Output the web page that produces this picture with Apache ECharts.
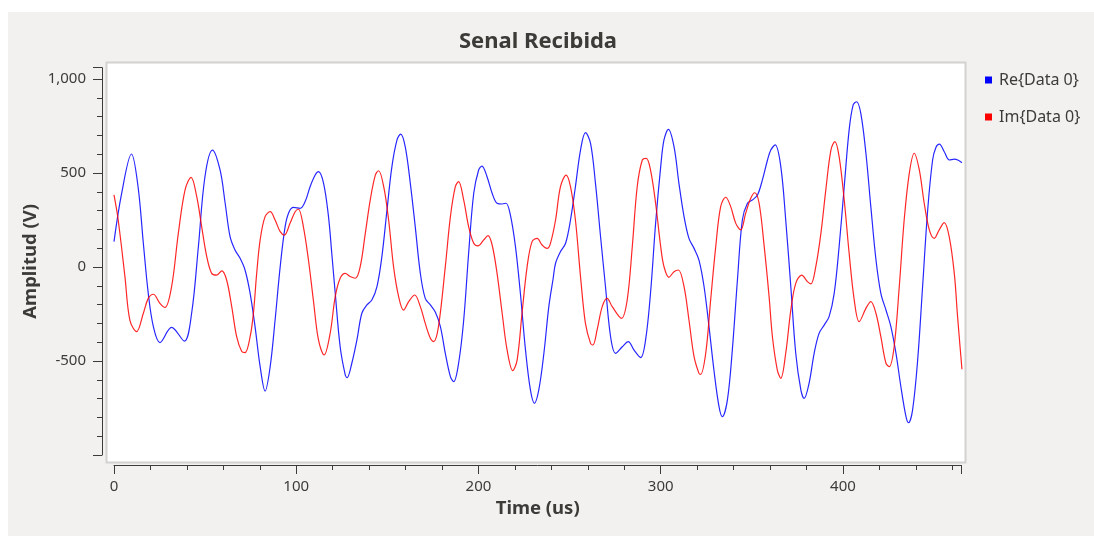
<!DOCTYPE html>
<html>
<head>
<meta charset="utf-8">
<script src="https://cdn.jsdelivr.net/npm/echarts@6/dist/echarts.min.js"></script>
<style>
html,body{margin:0;padding:0;background:#ffffff;}
#chart{width:1094px;height:536px;}
</style>
</head>
<body>
<div id="chart"></div>
<script>
var chartTitle = 'Senal Recibida';
var xName = 'Time (us)';
var yName = 'Amplitud (V)';
var seriesNames = ['Re{Data 0}', 'Im{Data 0}'];

var reTime = [0,4.2,9.6,13.2,16.1,18.8,21.6,25.2,31.6,38.6,42.6,46.3,49.9,54.0,58.2,61.0,63.7,66.4,69.2,71.9,74.7,77.4,80.2,82.9,85.7,88.4,91.2,93.9,96.1,98.5,102.1,104.9,107.6,110.4,112.2,115.0,117.7,119.5,121.4,124.1,126.9,127.9,130.5,133.3,136.0,138.8,141.5,144.3,147.0,149.8,152.5,155.3,157.3,159.8,162.6,165.3,168.1,170.8,173.6,176.3,179.1,181.8,184.6,186.4,189.1,191.9,194.6,197.4,200.1,201.9,204.7,207.5,210.2,213.0,215.1,217.5,220.3,223.0,225.8,228.5,230.7,233.1,235.9,238.6,241.0,242.3,245.0,247.8,250.5,253.2,256.0,258.7,261.5,264.2,267.0,269.7,272.5,275.2,278.9,282.2,285.3,289.0,291.7,294.4,297.2,300.0,301.8,304.2,307.3,310.0,312.8,315.5,318.3,321.0,323.8,326.5,329.2,332.0,333.8,336.6,339.3,342.1,344.8,347.6,350.3,353.1,355.8,358.6,360.4,362.8,365.9,368.6,371.4,374.1,376.9,378.7,381.4,384.2,386.9,389.7,392.4,395.2,397.9,400.7,403.4,405.6,407.5,409.8,412.6,415.3,418.1,420.8,423.6,426.3,429.1,431.8,434.6,436.0,438.2,441.0,443.7,446.5,449.2,451.0,452.9,455.6,458.4,461.1,463.0,465.3];
var reVal = [135,392,601,427,126,-140,-317,-402,-321,-394,-246,108,480,622,516,339,161,90,46,-16,-140,-317,-530,-660,-530,-282,2,215,294,317,312,348,427,489,507,445,268,73,-140,-424,-574,-589,-512,-388,-246,-202,-176,-105,55,303,534,676,707,640,445,215,-34,-167,-202,-240,-317,-459,-583,-610,-512,-282,73,392,516,537,480,392,339,335,339,277,108,-140,-441,-654,-725,-654,-459,-211,-60,20,82,126,250,427,622,715,658,445,161,-105,-371,-459,-424,-397,-441,-482,-388,-140,232,534,676,732,640,445,268,152,99,37,-105,-317,-548,-743,-796,-707,-441,-69,250,339,356,383,463,569,622,649,534,250,-105,-459,-654,-699,-619,-459,-353,-309,-264,-140,108,427,729,862,879,817,605,321,40,-140,-229,-317,-459,-637,-796,-828,-761,-495,-105,303,569,636,654,613,569,574,569,555];

var imTime = [0,2.3,6.0,8.7,12.4,16.1,18.8,21.6,25.2,28.0,31.6,35.3,39.0,42.3,45.4,48.1,50.9,53.6,56.4,59.1,61.8,64.6,67.3,70.1,71.9,74.7,76.5,78.3,80.2,82.9,85.7,88.4,91.2,93.5,96.6,99.4,101.2,103.9,106.7,109.4,112.2,115.3,118.6,121.4,124.1,126.9,129.6,132.4,135.1,137.9,140.6,143.4,145.2,148.0,150.7,153.4,156.2,158.9,161.7,165.0,168.1,170.8,173.6,175.4,178.0,181.8,184.6,187.3,189.1,191.9,194.6,197.4,199.7,202.9,205.2,207.5,210.2,213.0,215.7,218.8,221.2,223.9,226.7,229.4,232.2,234.9,237.7,239.5,242.3,245.0,248.1,250.5,253.2,256.0,258.7,261.5,262.8,265.1,267.9,270.6,273.4,278.5,281.6,284.4,287.1,289.9,292.1,294.4,297.2,300.0,301.8,304.5,307.3,309.7,312.8,315.5,318.3,321.0,321.9,324.7,327.4,330.2,332.9,335.7,338.4,341.2,343.9,346.6,349.4,351.6,354.0,356.8,359.5,361.3,364.0,365.9,368.6,371.4,374.1,377.4,380.5,382.4,385.1,387.9,390.6,393.4,395.6,397.9,400.7,403.4,406.2,408.9,412.6,415.3,418.1,420.8,423.6,425.4,428.1,430.9,433.6,436.4,439.1,441.9,444.6,447.4,450.1,452.8,455.6,458.3,461.1,462.9,465.3];
var imVal = [383,250,-51,-282,-344,-246,-167,-145,-193,-215,-105,179,410,477,374,215,55,-34,-43,-21,-69,-211,-371,-450,-456,-371,-246,-34,144,268,294,250,188,170,232,294,307,215,37,-176,-388,-468,-353,-158,-60,-34,-51,-60,2,179,356,489,512,427,250,2,-158,-229,-184,-149,-211,-300,-379,-397,-320,2,268,427,454,356,215,126,112,144,167,117,-34,-246,-441,-551,-495,-246,2,135,152,117,99,126,250,427,489,427,250,-51,-300,-406,-415,-335,-211,-167,-211,-273,-176,108,427,569,578,516,339,108,2,-55,-25,-16,-105,-282,-477,-566,-571,-459,-176,108,321,371,321,232,197,285,365,395,339,108,-160,-371,-548,-592,-459,-229,-87,-43,-78,-90,2,179,410,622,667,587,356,73,-176,-291,-220,-184,-246,-371,-512,-530,-424,-105,250,498,605,516,339,197,152,197,236,161,-34,-264,-544];

var xTicks = [0, 100, 200, 300, 400];
var yTicks = [-500, 0, 500, 1000];

var reData = reTime.map(function (t, i) { return [t, reVal[i]]; });
var imData = imTime.map(function (t, i) { return [t, imVal[i]]; });

var textColor = '#3c3b37';
var fontFam = '"Noto Sans", "DejaVu Sans", sans-serif';

var chart = echarts.init(document.getElementById('chart'), null, {renderer: 'canvas'});
var option = {
  animation: false,
  backgroundColor: '#ffffff',
  textStyle: {fontFamily: fontFam},
  grid: {left: 114, right: 132.6, top: 67.7, bottom: 81, containLabel: false},
  legend: {
    orient: 'vertical',
    left: 980,
    top: 67,
    itemWidth: 7,
    itemHeight: 7,
    itemGap: 21,
    icon: 'rect',
    textStyle: {fontSize: 16, color: textColor, fontFamily: fontFam, padding: [0,0,0,2]},
    data: seriesNames
  },
  graphic: {
    elements: [
      {type: 'rect', z: -20, silent: true, shape: {x: 8, y: 12, width: 1086, height: 524}, style: {fill: '#f2f1f0'}},
      {type: 'rect', z: -10, silent: true, shape: {x: 106.5, y: 62.5, width: 859, height: 400}, style: {fill: '#ffffff', stroke: '#d3d2d0', lineWidth: 2}},
      {type: 'text', z: 10, x: 538, y: 42, style: {text: chartTitle, fill: '#3c3b37', font: 'bold 22px ' + fontFam, textAlign: 'center', textVerticalAlign: 'middle'}}
    ]
  },
  xAxis: {
    type: 'value',
    min: 0,
    max: 465,
    interval: 100,
    offset: 10,
    name: xName,
    nameLocation: 'middle',
    nameGap: 34,
    nameMoveOverlap: false,
    nameTextStyle: {fontWeight: 'bold', fontSize: 18.5, color: textColor, fontFamily: fontFam},
    axisLine: {show: true, onZero: false, lineStyle: {color: '#3c3b37', width: 1}},
    axisTick: {show: true, inside: false, length: 9, lineStyle: {color: '#3c3b37'}},
    minorTick: {show: true, splitNumber: 5, length: 5, lineStyle: {color: '#3c3b37'}},
    axisLabel: {
      color: textColor, fontSize: 15, margin: 14, fontFamily: fontFam,
      formatter: function (v) { return xTicks.indexOf(v) >= 0 ? String(v) : ''; }
    },
    splitLine: {show: false}
  },
  yAxis: {
    type: 'value',
    min: -1000,
    max: 1060,
    interval: 500,
    offset: 12,
    name: yName,
    nameLocation: 'middle',
    nameGap: 62,
    nameMoveOverlap: false,
    nameRotate: 90,
    nameTextStyle: {fontWeight: 'bold', fontSize: 18.5, color: textColor, fontFamily: fontFam},
    axisLine: {show: true, onZero: false, lineStyle: {color: '#3c3b37', width: 1}},
    axisTick: {show: true, inside: false, length: 9, lineStyle: {color: '#3c3b37'}},
    minorTick: {show: true, splitNumber: 5, length: 5, lineStyle: {color: '#3c3b37'}},
    axisLabel: {
      color: textColor, fontSize: 15, margin: 16, fontFamily: fontFam,
      formatter: function (v) {
        if (yTicks.indexOf(v) < 0) return '';
        return v.toLocaleString('en-US');
      }
    },
    splitLine: {show: false}
  },
  series: [
    {
      name: seriesNames[0], type: 'line', data: reData, smooth: 0.35,
      showSymbol: false, symbol: 'none', clip: true,
      itemStyle: {color: '#0000ff'},
      lineStyle: {color: '#0000ff', width: 1.2, opacity: 0.85}
    },
    {
      name: seriesNames[1], type: 'line', data: imData, smooth: 0.35,
      showSymbol: false, symbol: 'none', clip: true,
      itemStyle: {color: '#ff0000'},
      lineStyle: {color: '#ff0000', width: 1.2, opacity: 0.85}
    }
  ]
};
chart.setOption(option);
</script>
</body>
</html>
